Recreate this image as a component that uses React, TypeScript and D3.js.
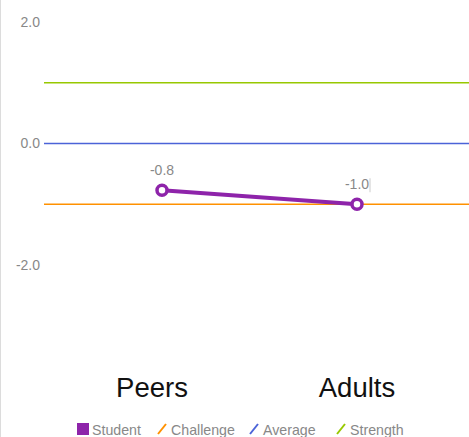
import React from "react";
import * as d3 from "d3";

const categories = ["Peers", "Adults"];
const studentValues = [-0.77, -1.0];
const studentLabels = ["-0.8", "-1.0"];
const yTicks = [2, 0, -2];
const refLines = [
  { name: "Challenge", value: -1, color: "#ff9100" },
  { name: "Average", value: 0, color: "#4b63d8" },
  { name: "Strength", value: 1, color: "#97c800" },
];
const legendItems = [
  { name: "Student", color: "#8e24aa", kind: "square" },
  { name: "Challenge", color: "#ff9100", kind: "line" },
  { name: "Average", color: "#4b63d8", kind: "line" },
  { name: "Strength", color: "#97c800", kind: "line" },
];

const W = 469;
const H = 437;
const FONT = "'Liberation Sans', Arial, Helvetica, sans-serif";

export default function App() {
  const y = d3.scaleLinear().domain([-2, 2]).range([265, 22]);
  const x = d3.scalePoint().domain(categories).range([162, 357]);
  const labelX = d3.scalePoint().domain(categories).range([152, 357]);
  const line = d3
    .line<number>()
    .x((_, i) => x(categories[i]) as number)
    .y((d) => y(d));

  const legendX = [77, 157, 249, 336];

  return (
    <svg
      width={W}
      height={H}
      style={{ position: "absolute", left: 0, top: 0, display: "block" }}
      fontFamily={FONT}
    >
      <rect x={0} y={0} width={W} height={H} fill="#fff" />
      <line x1={0.5} x2={0.5} y1={0} y2={H} stroke="#dcdcdc" strokeWidth={1} />
      {yTicks.map((t) => (
        <text
          key={t}
          x={40}
          y={y(t)}
          dy="0.35em"
          textAnchor="end"
          fontSize={14}
          fill="#888"
        >
          {t.toFixed(1)}
        </text>
      ))}
      {refLines.map((r) => (
        <line
          key={r.name}
          x1={44}
          x2={W}
          y1={y(r.value)}
          y2={y(r.value)}
          stroke={r.color}
          strokeWidth={1.5}
        />
      ))}
      <path
        d={line(studentValues) || ""}
        fill="none"
        stroke="#8e24aa"
        strokeWidth={4}
      />
      {studentValues.map((v, i) => (
        <g key={i}>
          <circle
            cx={x(categories[i]) as number}
            cy={y(v)}
            r={5}
            fill="#fff"
            stroke="#8e24aa"
            strokeWidth={3.5}
          />
          <text
            x={x(categories[i]) as number}
            y={y(v) - 15}
            textAnchor="middle"
            fontSize={14}
            fill="#888"
          >
            {studentLabels[i]}
          </text>
        </g>
      ))}
      <line
        x1={370}
        x2={370}
        y1={y(studentValues[1]) - 26}
        y2={y(studentValues[1]) - 12}
        stroke="#ccc"
        strokeWidth={1}
      />
      {categories.map((c) => (
        <text
          key={c}
          x={labelX(c) as number}
          y={397}
          textAnchor="middle"
          fontSize={27.5}
          fill="#111"
        >
          {c}
        </text>
      ))}
      {legendItems.map((l, i) => (
        <g key={l.name} transform={`translate(${legendX[i]},0)`}>
          {l.kind === "square" ? (
            <rect x={0} y={423} width={12} height={12} fill={l.color} />
          ) : (
            <line x1={1} y1={434} x2={9} y2={424} stroke={l.color} strokeWidth={2} />
          )}
          <text x={l.kind === "square" ? 15 : 14} y={435} fontSize={14.2} fill="#888">
            {l.name}
          </text>
        </g>
      ))}
    </svg>
  );
}
